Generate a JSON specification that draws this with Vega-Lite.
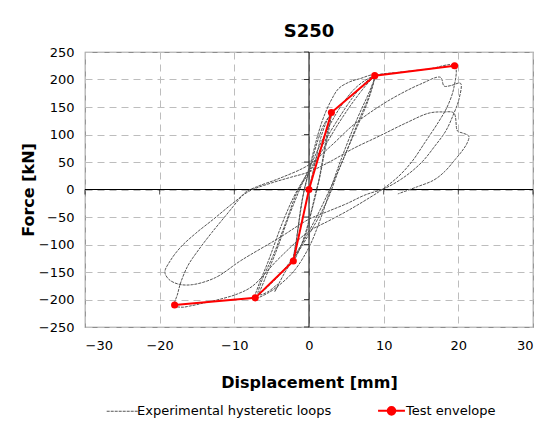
{
  "$schema": "https://vega.github.io/schema/vega-lite/v6.json",
  "width": 448,
  "height": 275,
  "autosize": {"type": "none"},
  "padding": {"left": 85, "top": 52, "right": 9, "bottom": 94},
  "background": "white",
  "title": {"text": "S250", "fontSize": 18, "font": "DejaVu Sans", "fontWeight": "bold", "color": "black", "offset": 5, "anchor": "middle"},
  "config": {
    "font": "DejaVu Sans",
    "view": {"stroke": "#8c8c8c", "strokeWidth": 1.2},
    "axis": {"labelFont": "DejaVu Sans", "labelFontSize": 13, "labelColor": "black", "titleFont": "DejaVu Sans", "titleFontSize": 16, "titleFontWeight": "bold", "titleColor": "black", "domain": false, "ticks": false, "gridColor": "#bdbdbd", "gridDash": [7, 5], "gridWidth": 1},
    "legend": {"labelFont": "DejaVu Sans", "labelFontSize": 13, "labelColor": "black"}
  },
  "datasets": {
    "loops": [
      {"i":0,"x":0,"y":0},{"i":1,"x":0.5,"y":30},{"i":2,"x":1,"y":60},{"i":3,"x":1.6,"y":95},{"i":4,"x":2.3,"y":122},{"i":5,"x":3,"y":140},
      {"i":6,"x":2.7,"y":112},{"i":7,"x":2,"y":62},{"i":8,"x":1.4,"y":20},{"i":9,"x":1,"y":0},{"i":10,"x":0.3,"y":-40},{"i":11,"x":-0.5,"y":-80},{"i":12,"x":-1.3,"y":-110},{"i":13,"x":-2.1,"y":-130},
      {"i":14,"x":-1.8,"y":-102},{"i":15,"x":-1.3,"y":-55},{"i":16,"x":-0.8,"y":-12},{"i":17,"x":-0.5,"y":8},{"i":18,"x":0.3,"y":48},{"i":19,"x":1.2,"y":90},{"i":20,"x":2,"y":118},{"i":21,"x":2.8,"y":133},
      {"i":22,"x":2.4,"y":100},{"i":23,"x":1.7,"y":45},{"i":24,"x":1.1,"y":2},{"i":25,"x":0.3,"y":-42},{"i":26,"x":-0.6,"y":-88},{"i":27,"x":-1.5,"y":-113},{"i":28,"x":-2,"y":-123},
      {"i":29,"x":-1.6,"y":-85},{"i":30,"x":-1,"y":-25},{"i":31,"x":-0.4,"y":12},
      {"i":32,"x":0.4,"y":58},{"i":33,"x":1.2,"y":100},{"i":34,"x":2,"y":133},{"i":35,"x":3,"y":163},{"i":36,"x":4,"y":184},{"i":37,"x":5.5,"y":196},{"i":38,"x":6.7,"y":201},{"i":39,"x":8.8,"y":208},
      {"i":40,"x":8.3,"y":185},{"i":41,"x":6.5,"y":130},{"i":42,"x":4.5,"y":62},{"i":43,"x":3,"y":5},{"i":44,"x":1.5,"y":-55},{"i":45,"x":0,"y":-105},{"i":46,"x":-2,"y":-148},{"i":47,"x":-4,"y":-174},{"i":48,"x":-5.6,"y":-189},{"i":49,"x":-7.2,"y":-197},
      {"i":50,"x":-6.8,"y":-176},{"i":51,"x":-5.5,"y":-132},{"i":52,"x":-3.6,"y":-62},{"i":53,"x":-2.1,"y":-15},{"i":54,"x":-1,"y":12},{"i":55,"x":0.5,"y":45},{"i":56,"x":2,"y":85},{"i":57,"x":4,"y":130},{"i":58,"x":6,"y":170},{"i":59,"x":7.5,"y":194},{"i":60,"x":8.7,"y":205},
      {"i":61,"x":8.2,"y":176},{"i":62,"x":6.5,"y":120},{"i":63,"x":4.5,"y":52},{"i":64,"x":2.5,"y":-8},{"i":65,"x":1,"y":-50},{"i":66,"x":-1,"y":-100},{"i":67,"x":-3,"y":-140},{"i":68,"x":-5,"y":-170},{"i":69,"x":-6.8,"y":-190},
      {"i":70,"x":-6.3,"y":-165},{"i":71,"x":-4.8,"y":-120},{"i":72,"x":-3,"y":-56},{"i":73,"x":-1.5,"y":-2},{"i":74,"x":0,"y":30},{"i":75,"x":2,"y":76},{"i":76,"x":4,"y":121},{"i":77,"x":6,"y":161},{"i":78,"x":8,"y":195},{"i":79,"x":8.7,"y":203},
      {"i":80,"x":8,"y":165},{"i":81,"x":6,"y":100},{"i":82,"x":4,"y":36},{"i":83,"x":2.5,"y":-18},{"i":84,"x":0.5,"y":-70},{"i":85,"x":-2,"y":-125},{"i":86,"x":-3.2,"y":-150},{"i":87,"x":-4.6,"y":-186},{"i":88,"x":-4.1,"y":-172},{"i":89,"x":-5.5,"y":-186},{"i":90,"x":-6.6,"y":-191},
      {"i":91,"x":-6,"y":-166},{"i":92,"x":-4.5,"y":-116},{"i":93,"x":-2.5,"y":-42},{"i":94,"x":-1,"y":8},{"i":95,"x":0.5,"y":52},{"i":96,"x":2.5,"y":110},{"i":97,"x":4.5,"y":156},{"i":98,"x":6.5,"y":188},{"i":99,"x":8.8,"y":207},{"i":100,"x":12,"y":213},{"i":101,"x":16,"y":219},{"i":102,"x":19.5,"y":225},
      {"i":103,"x":19.4,"y":185},{"i":104,"x":18.5,"y":150},{"i":105,"x":17.4,"y":124},{"i":106,"x":15.5,"y":85},{"i":107,"x":13.8,"y":51},{"i":108,"x":12,"y":24},{"i":109,"x":9.8,"y":0},
      {"i":110,"x":7.5,"y":-20},{"i":111,"x":5,"y":-40},{"i":112,"x":2.5,"y":-58},{"i":113,"x":0,"y":-76},{"i":114,"x":-4,"y":-125},{"i":115,"x":-7.6,"y":-176},{"i":116,"x":-9.6,"y":-190},{"i":117,"x":-11.5,"y":-198},{"i":118,"x":-14.3,"y":-207},{"i":119,"x":-16,"y":-212},{"i":120,"x":-17,"y":-214},{"i":121,"x":-18,"y":-211},
      {"i":122,"x":-17.6,"y":-190},{"i":123,"x":-17.2,"y":-170},{"i":124,"x":-16.2,"y":-138},{"i":125,"x":-14.8,"y":-110},{"i":126,"x":-13,"y":-78},{"i":127,"x":-11,"y":-45},{"i":128,"x":-9.5,"y":-20},{"i":129,"x":-8.5,"y":-5},{"i":130,"x":-7,"y":5},{"i":131,"x":-4,"y":20},{"i":132,"x":0,"y":45},
      {"i":133,"x":3,"y":80},{"i":134,"x":6,"y":118},{"i":135,"x":9.4,"y":151},{"i":136,"x":12,"y":172},{"i":137,"x":15,"y":192},{"i":138,"x":17.6,"y":204},{"i":139,"x":18.1,"y":188},{"i":140,"x":19,"y":189},{"i":141,"x":20.3,"y":193},
      {"i":142,"x":20.1,"y":165},{"i":143,"x":19.3,"y":135},{"i":144,"x":18.3,"y":106},{"i":145,"x":16.8,"y":78},{"i":146,"x":15.2,"y":51},{"i":147,"x":13,"y":25},{"i":148,"x":10.3,"y":3},
      {"i":149,"x":7.5,"y":-10},{"i":150,"x":5,"y":-26},{"i":151,"x":2.5,"y":-40},{"i":152,"x":0,"y":-54},{"i":153,"x":-4,"y":-88},{"i":154,"x":-9.1,"y":-129},{"i":155,"x":-12.5,"y":-160},{"i":156,"x":-15.6,"y":-173},{"i":157,"x":-17.5,"y":-172},{"i":158,"x":-18.8,"y":-163},{"i":159,"x":-19.3,"y":-150},
      {"i":160,"x":-18.6,"y":-130},{"i":161,"x":-17.2,"y":-105},{"i":162,"x":-15.2,"y":-80},{"i":163,"x":-12.8,"y":-54},{"i":164,"x":-10.2,"y":-25},{"i":165,"x":-8,"y":-3},{"i":166,"x":-5,"y":12},{"i":167,"x":-2.5,"y":22},{"i":168,"x":0,"y":32},
      {"i":169,"x":3,"y":52},{"i":170,"x":6,"y":75},{"i":171,"x":9.4,"y":97},{"i":172,"x":13,"y":121},{"i":173,"x":16.1,"y":139},{"i":174,"x":18,"y":141},{"i":175,"x":19.4,"y":139},{"i":176,"x":19.9,"y":106},{"i":177,"x":20.5,"y":103},{"i":178,"x":21.4,"y":97},
      {"i":179,"x":21.2,"y":85},{"i":180,"x":20.5,"y":70},{"i":181,"x":19.6,"y":55},{"i":182,"x":18.2,"y":33},{"i":183,"x":16.7,"y":17},{"i":184,"x":14.5,"y":5},{"i":185,"x":11.9,"y":-8}
    ],
    "envelope": [
      {"i":0,"x":-18,"y":-210},{"i":1,"x":-7.2,"y":-197},{"i":2,"x":-2.1,"y":-130},{"i":3,"x":0,"y":0},{"i":4,"x":3,"y":140},{"i":5,"x":8.8,"y":207},{"i":6,"x":19.5,"y":225}
    ],
    "yticks": [{"v":-250},{"v":-200},{"v":-150},{"v":-100},{"v":-50},{"v":50},{"v":100},{"v":150},{"v":200},{"v":250}],
    "xticks": [{"v":-30},{"v":-20},{"v":-10},{"v":10},{"v":20},{"v":30}]
  },
  "layer": [
    {
      "data": {"values": [{"x": 0}]},
      "mark": {"type": "rule", "color": "black", "strokeWidth": 1},
      "encoding": {"x": {"field": "x", "type": "quantitative"}}
    },
    {
      "data": {"values": [{"y": 0}]},
      "mark": {"type": "rule", "color": "black", "strokeWidth": 1},
      "encoding": {"y": {"field": "y", "type": "quantitative"}}
    },
    {
      "data": {"name": "yticks"},
      "mark": {"type": "tick", "orient": "horizontal", "color": "black", "size": 5, "thickness": 1, "xOffset": -2.5},
      "encoding": {"y": {"field": "v", "type": "quantitative"}, "x": {"datum": 0, "type": "quantitative"}}
    },
    {
      "data": {"name": "xticks"},
      "mark": {"type": "tick", "orient": "vertical", "color": "black", "size": 5, "thickness": 1, "yOffset": 2.5},
      "encoding": {"x": {"field": "v", "type": "quantitative"}, "y": {"datum": 0, "type": "quantitative"}}
    },
    {
      "data": {"name": "loops"},
      "transform": [{"calculate": "'Experimental hysteretic loops'", "as": "s"}],
      "mark": {"type": "line", "strokeWidth": 1, "strokeDash": [3, 1], "interpolate": "catmull-rom"},
      "encoding": {
        "x": {"field": "x", "type": "quantitative"},
        "y": {"field": "y", "type": "quantitative"},
        "order": {"field": "i"},
        "color": {"field": "s", "type": "nominal"}
      }
    },
    {
      "data": {"name": "envelope"},
      "transform": [{"calculate": "'Test envelope'", "as": "s"}],
      "mark": {"type": "line", "strokeWidth": 2},
      "encoding": {
        "x": {"field": "x", "type": "quantitative"},
        "y": {"field": "y", "type": "quantitative"},
        "order": {"field": "i"},
        "color": {"field": "s", "type": "nominal"}
      }
    },
    {
      "data": {"name": "envelope"},
      "transform": [{"calculate": "'Test envelope'", "as": "s"}],
      "mark": {"type": "point", "filled": true, "size": 50, "opacity": 1},
      "encoding": {
        "x": {"field": "x", "type": "quantitative"},
        "y": {"field": "y", "type": "quantitative"},
        "color": {"field": "s", "type": "nominal"}
      }
    }
  ],
  "encoding": {
    "x": {"type": "quantitative", "scale": {"domain": [-30, 30], "nice": false}, "axis": {"title": "Displacement [mm]", "values": [-30, -20, -10, 0, 10, 20, 30], "labelPadding": 12, "titlePadding": 22}},
    "y": {"type": "quantitative", "scale": {"domain": [-250, 250], "nice": false}, "axis": {"title": "Force [kN]", "values": [-250, -200, -150, -100, -50, 0, 50, 100, 150, 200, 250], "labelPadding": 11, "titlePadding": 2}},
    "color": {
      "type": "nominal",
      "scale": {"domain": ["Experimental hysteretic loops", "Test envelope"], "range": ["#555555", "#ff0000"]},
      "legend": {
        "title": null, "orient": "none", "legendX": 31, "legendY": 352, "direction": "horizontal",
        "symbolType": "stroke", "symbolSize": 1000, "columnPadding": 42, "labelFontSize": 13, "labelLimit": 0, "labelOffset": 8,
        "encode": {"symbols": {"update": {
          "shape": {"signal": "datum.value === 'Test envelope' ? 'M-0.85,0L0.85,0M-0.24,0a0.24,0.24 0 1,0 0.48,0a0.24,0.24 0 1,0 -0.48,0Z' : 'stroke'"},
          "fill": {"signal": "datum.value === 'Test envelope' ? '#ff0000' : 'transparent'"},
          "strokeWidth": {"signal": "datum.value === 'Test envelope' ? 2 : 1"},
          "strokeDash": {"signal": "datum.value === 'Test envelope' ? [] : [3, 1]"}
        }}}
      }
    }
  }
}
